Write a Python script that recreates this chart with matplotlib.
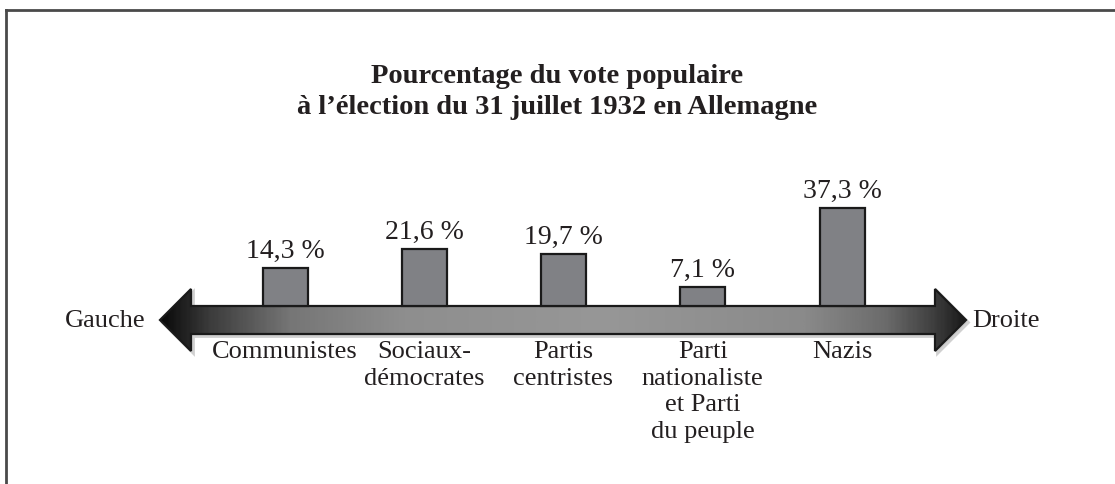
import matplotlib.pyplot as plt
import numpy as np
from matplotlib.patches import Polygon
from matplotlib.colors import LinearSegmentedColormap
from matplotlib.lines import Line2D

# data
partis = ['Communistes', 'Sociaux-\ndémocrates', 'Partis\ncentristes',
          'Parti\nnationaliste\net Parti\ndu peuple', 'Nazis']
votes = [14.3, 21.6, 19.7, 7.1, 37.3]
etiquettes = ['14,3 %', '21,6 %', '19,7 %', '7,1 %', '37,3 %']
titre = 'Pourcentage du vote populaire\nà l\u2019élection du 31 juillet 1932 en Allemagne'

plt.rcParams['font.family'] = ['Liberation Serif', 'DejaVu Serif']
ink = '#231f20'

W, H = 1115, 484
fig = plt.figure(figsize=(W / 100, H / 100), dpi=100)
ax = fig.add_axes([0, 0, 1, 1])

# pixel layout: bar centres every ~139 px starting at 285, baseline at 306 px from top
sx = 139.25
sy = 2.64
x0, y0 = 285, 306
ax.set_xlim(-x0 / sx, (W - x0) / sx)
ax.set_ylim(-(H - y0) / sy, y0 / sy)
ax.axis('off')

def px(x):
    return (x - x0) / sx

def py(y):
    return (y0 - y) / sy

# frame (top and left edges)
fig.add_artist(Line2D([6 / W, 1], [1 - 10 / H, 1 - 10 / H], color='#4a4a4a', lw=2.0,
                      transform=fig.transFigure))
fig.add_artist(Line2D([6 / W, 6 / W], [0, 1 - 10 / H], color='#4a4a4a', lw=2.0,
                      transform=fig.transFigure))

# title
fig.text(0.5, 1 - 92 / H, titre, ha='center', va='center', fontsize=20.5,
         fontweight='bold', color=ink, linespacing=1.33)

# double arrow
ym = py(320)
shaft = 14 / sy
head = 31 / sy
lt, lb = px(160), px(191)
rt, rb = px(966), px(935)
pts = [(lt, ym), (lb, ym + head), (lb, ym + shaft), (rb, ym + shaft), (rb, ym + head),
       (rt, ym), (rb, ym - head), (rb, ym - shaft), (lb, ym - shaft), (lb, ym - head)]
pts = np.array(pts)

shadow = Polygon(pts + [2.5 / sx, -2.5 / sy], closed=True, facecolor='#c4c4c4',
                 edgecolor='#d0d0d0', lw=2, zorder=1)
ax.add_patch(shadow)

cmap = LinearSegmentedColormap.from_list('fleche', [
    (0.0, '#0a0a0a'), (0.06, '#3c3c3c'), (0.16, '#767676'), (0.3, '#8e8e8e'),
    (0.55, '#979797'), (0.8, '#8a8a8a'), (0.9, '#6c6c6c'), (0.96, '#404040'),
    (1.0, '#1a1a1a')])
grad = np.linspace(0, 1, 400).reshape(1, -1)
im = ax.imshow(grad, cmap=cmap, aspect='auto', extent=(lt, rt, ym - head, ym + head),
               zorder=2, interpolation='bilinear')
arrow = Polygon(pts, closed=True, facecolor='none', edgecolor='#1a1a1a', lw=1.6, zorder=3)
ax.add_patch(arrow)
im.set_clip_path(arrow)
ax.set_xlim(-x0 / sx, (W - x0) / sx)
ax.set_ylim(-(H - y0) / sy, y0 / sy)

# bars
pos = np.arange(len(votes))
ax.bar(pos, votes, width=45 / sx, bottom=0, color='#808185', edgecolor='#1a1a1a',
       linewidth=1.6, zorder=4)

for x, v, lab in zip(pos, votes, etiquettes):
    ax.text(x, v + 10 / sy, lab, ha='center', va='baseline', fontsize=20, color=ink)

for x, name in zip(pos, partis):
    ax.text(x, py(341), name, ha='center', va='top', fontsize=19, color=ink,
            linespacing=1.27)

ax.text(px(146), py(321), 'Gauche', ha='right', va='center', fontsize=19, color=ink)
ax.text(px(972), py(321), 'Droite', ha='left', va='center', fontsize=19, color=ink)

plt.savefig('out.png', dpi=100)
